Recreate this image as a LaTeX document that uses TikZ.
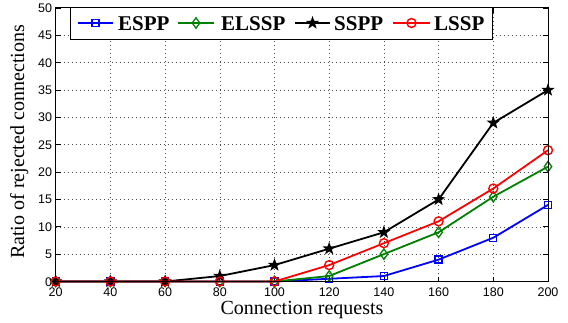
\documentclass[tikz,border=0pt]{standalone}
\usepackage{fontspec}
\setmainfont{Liberation Serif}
\newfontfamily\ticksfont{Liberation Sans}
\usetikzlibrary{shapes.geometric}

\definecolor{esppblue}{rgb}{0,0,1}
\definecolor{elsspgreen}{rgb}{0,0.5,0}
\definecolor{lssped}{rgb}{1,0,0}

\tikzset{
  ticklabel/.style={font=\ticksfont\fontsize{12.5}{14}\selectfont,inner sep=0pt,text height=9pt,text depth=0pt},
  axislabel/.style={font=\fontsize{20}{24}\selectfont,inner sep=0pt,text height=13.5pt},
  legendtext/.style={font=\bfseries\fontsize{21}{24}\selectfont,inner sep=0pt,anchor=base west},
  gridline/.style={line width=0.6pt,dash pattern=on 0.8pt off 3.2pt,black!70},
  espp mark/.style={draw=esppblue,rectangle,minimum size=7pt,inner sep=0pt,line width=1.3pt},
  elssp mark/.style={draw=elsspgreen,diamond,minimum width=8pt,minimum height=11pt,inner sep=0pt,line width=1.3pt},
  sspp mark/.style={fill=black,star,star points=5,star point ratio=2.5,minimum size=14pt,inner sep=0pt},
  lssp mark/.style={draw=lssped,circle,minimum size=9pt,inner sep=0pt,line width=1.4pt},
  espp line/.style={esppblue,line width=1.8pt,line join=round},
  elssp line/.style={elsspgreen,line width=1.8pt,line join=round},
  sspp line/.style={black,line width=1.8pt,line join=round},
  lssp line/.style={lssped,line width=1.8pt,line join=round}
}

\begin{document}
\begin{tikzpicture}[x=1pt,y=1pt]
\useasboundingbox (0,0) rectangle (568,322);

\begin{scope}[shift={(1pt,40.5pt)},x=2.735pt,y=5.47pt]
  % grid
  \foreach \x in {40,60,...,180}
    \draw[gridline] (\x,0) -- (\x,50);
  \foreach \y in {5,10,...,45}
    \draw[gridline] (20,\y) -- (200,\y);

  % ticks and tick labels
  \foreach \x in {20,40,...,200} {
    \draw[line width=0.8pt] (\x,0) -- ++(0,5pt) (\x,50) -- ++(0,-5pt);
    \node[ticklabel,anchor=base] (xt\x) at (\x,-2.7) {\x};
  }
  \foreach \y in {0,5,...,50} {
    \draw[line width=0.8pt] (20,\y) -- ++(5pt,0) (200,\y) -- ++(-5pt,0);
    \node[ticklabel,anchor=east] (yt\y) at ([xshift=-3.5pt]20,\y) {\y};
  }

  % ESPP
  \foreach \x/\y [count=\i] in {20/0,40/0,60/0,80/0,100/0,120/0.5,140/1,160/4,180/8,200/14}
    \node[espp mark] (espp\i) at (\x,\y) {};
  \draw[espp line] (espp1.center) \foreach \i in {2,...,10} {-- (espp\i.center)};

  % ELSSP
  \foreach \x/\y [count=\i] in {20/0,40/0,60/0,80/0,100/0,120/1,140/5,160/9,180/15.5,200/21}
    \node[elssp mark] (elssp\i) at (\x,\y) {};
  \draw[elssp line] (elssp1.center) \foreach \i in {2,...,10} {-- (elssp\i.center)};

  % SSPP
  \foreach \x/\y [count=\i] in {20/0,40/0,60/0,80/1,100/3,120/6,140/9,160/15,180/29,200/35}
    \node[sspp mark] (sspp\i) at (\x,\y) {};
  \draw[sspp line] (sspp1.center) \foreach \i in {2,...,10} {-- (sspp\i.center)};

  % LSSP
  \foreach \x/\y [count=\i] in {20/0,40/0,60/0,80/0,100/0,120/3,140/7,160/11,180/17,200/24}
    \node[lssp mark] (lssp\i) at (\x,\y) {};
  \draw[lssp line] (lssp1.center) \foreach \i in {2,...,10} {-- (lssp\i.center)};

  % frame
  \draw[line width=1pt] (20,0) rectangle (200,50);
\end{scope}

% axis labels
\node[axislabel,anchor=base] (xlabel) at (302,7.5) {Connection requests};
\node[axislabel,rotate=90,anchor=base] (ylabel) at (24,180) {Ratio of rejected connections};

% legend
\node[draw,fill=white,line width=0.8pt,minimum width=422pt,minimum height=32pt,inner sep=0pt] (legend) at (281,299) {};
\coordinate (la1) at (78,299);  \coordinate (lb1) at (113,299);
\coordinate (la2) at (178,299); \coordinate (lb2) at (214,299);
\coordinate (la3) at (295,299); \coordinate (lb3) at (330,299);
\coordinate (la4) at (393,299); \coordinate (lb4) at (430,299);
\draw[espp line] (la1) -- (lb1);
\node[espp mark] (lgespp) at (95.5,299) {};
\draw[elssp line] (la2) -- (lb2);
\node[elssp mark] (lgelssp) at (196,299) {};
\draw[sspp line] (la3) -- (lb3);
\node[sspp mark] (lgsspp) at (312.5,299) {};
\draw[lssp line] (la4) -- (lb4);
\node[lssp mark] (lglssp) at (411.5,299) {};
\node[legendtext] (tespp) at (118,291.5) {ESPP};
\node[legendtext] (telssp) at (221,291.5) {ELSSP};
\node[legendtext] (tsspp) at (334,291.5) {SSPP};
\node[legendtext] (tlssp) at (434,291.5) {LSSP};
\end{tikzpicture}
\end{document}
